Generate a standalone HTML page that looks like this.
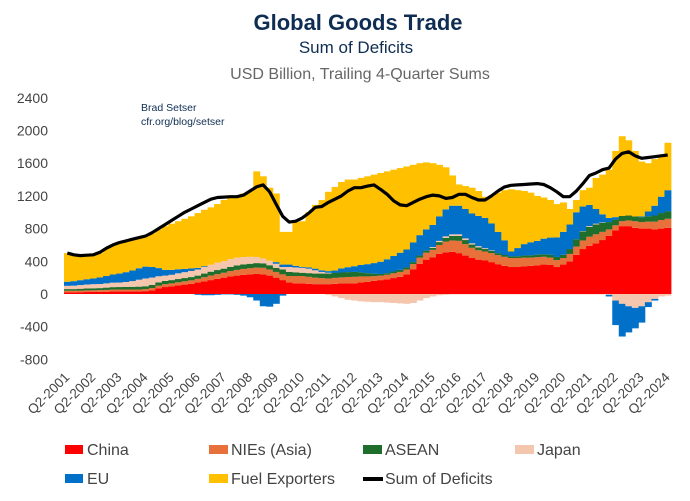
<!DOCTYPE html>
<html><head><meta charset="utf-8">
<style>
html,body{margin:0;padding:0;background:#fff;}
svg{display:block;font-family:"Liberation Sans",sans-serif;}
</style></head>
<body>
<svg id="chart" width="690" height="501" viewBox="0 0 690 501">
<text x="358" y="30" text-anchor="middle" font-size="22" font-weight="bold" fill="#0f2d52">Global Goods Trade</text>
<text x="356" y="53" text-anchor="middle" font-size="17" fill="#0f2d52">Sum of Deficits</text>
<text x="360" y="79" text-anchor="middle" font-size="16" fill="#666">USD Billion, Trailing 4-Quarter Sums</text>
<text x="141" y="111" font-size="10.5" fill="#0f2d52">Brad Setser</text>
<text x="141" y="125" font-size="10.5" fill="#0f2d52">cfr.org/blog/setser</text>
<g id="bars"></g>
<g id="yaxis"></g>
<g id="xaxis"></g>
<g id="legend">
 <g><rect x="65" y="445" width="18" height="9" fill="#ff0000"/><text x="87" y="455" font-size="16" fill="#444">China</text></g>
 <g><rect x="209" y="445" width="19" height="9" fill="#e8703a"/><text x="231" y="455" font-size="16" fill="#444">NIEs (Asia)</text></g>
 <g><rect x="363" y="445" width="19" height="9" fill="#1f6e2c"/><text x="385" y="455" font-size="16" fill="#444">ASEAN</text></g>
 <g><rect x="515" y="445" width="19" height="9" fill="#f4c6ae"/><text x="537" y="455" font-size="16" fill="#444">Japan</text></g>
 <g><rect x="65" y="474" width="18" height="9" fill="#0070c8"/><text x="87" y="484" font-size="16" fill="#444">EU</text></g>
 <g><rect x="209" y="474" width="19" height="9" fill="#ffc000"/><text x="231" y="484" font-size="16" fill="#444">Fuel Exporters</text></g>
 <g><rect x="363" y="477" width="20" height="4" fill="#000"/><text x="385" y="484" font-size="16" fill="#444">Sum of Deficits</text></g>
</g>
</svg>
<script>
const startYear = 2001;
const yTicks = [2400,2000,1600,1200,800,400,0,-400,-800];
const china = [20,20,22,24,25,27,28,30,30,30,30,30,35,45,70,85,95,105,115,125,140,155,170,185,200,215,225,235,240,245,240,225,200,170,140,130,130,125,120,120,120,125,128,130,130,140,150,160,170,180,195,210,240,300,370,420,450,490,510,515,500,470,440,420,410,390,365,345,330,330,340,345,350,360,355,330,360,400,480,550,590,620,660,710,780,830,830,810,800,800,790,800,810];
const nies = [20,20,20,20,20,20,22,24,25,25,25,25,25,28,32,35,35,38,40,42,45,50,55,58,60,65,70,72,75,78,80,75,70,70,80,90,90,85,80,75,70,72,75,78,80,75,65,58,55,55,58,60,60,65,75,85,90,110,130,140,150,140,125,115,110,110,110,110,110,110,105,100,100,95,90,85,80,90,100,105,110,110,100,80,60,60,70,80,80,85,95,105,110];
const asean = [20,20,22,24,25,25,28,30,30,32,33,35,35,38,40,40,40,40,40,40,40,45,48,50,50,52,55,55,55,55,55,52,50,60,50,45,40,45,50,55,60,60,60,60,60,50,40,30,20,20,22,25,25,25,25,25,25,35,45,55,60,50,40,35,30,28,25,22,20,22,25,28,30,32,35,38,40,60,90,110,120,120,110,90,70,65,60,60,60,65,75,85,90];
const japanPos = [40,42,45,48,50,50,52,55,55,60,70,85,95,90,75,65,65,70,72,75,75,80,85,90,90,95,95,90,85,75,60,55,50,30,60,60,60,55,40,20,10,0,0,0,0,0,0,0,0,0,0,0,0,0,0,0,10,15,20,20,20,20,15,15,10,5,0,0,0,0,0,0,0,0,0,0,0,0,0,5,10,10,5,0,0,0,0,0,0,0,0,0,0];
const japanNeg = [0,0,0,0,0,0,0,0,0,0,0,0,0,0,0,0,0,0,0,0,0,0,0,0,0,0,0,0,0,0,0,0,0,0,0,0,0,0,0,0,-10,-30,-50,-70,-80,-90,-95,-100,-100,-105,-110,-115,-120,-110,-80,-50,-30,-15,-10,-5,-5,-5,-5,-5,-5,-5,-5,-5,-5,-5,-5,-5,-5,-5,-5,-5,-5,-5,-5,-5,-5,-5,-5,-10,-80,-120,-150,-170,-150,-100,-60,-30,-20];
const euPos = [50,55,60,65,70,80,90,100,110,120,130,140,145,130,100,70,60,50,40,30,20,10,0,0,0,0,0,0,0,0,0,0,20,30,30,20,10,15,20,20,20,30,50,60,70,90,110,130,150,170,190,210,220,240,250,260,270,300,330,350,350,360,365,370,370,330,260,180,60,100,140,160,170,190,210,240,280,300,330,300,260,180,100,50,30,0,0,0,10,60,120,200,260];
const euNeg = [0,0,0,0,0,0,0,0,0,0,0,0,0,0,0,0,0,0,0,0,-10,-15,-15,-10,-5,-5,-10,-20,-40,-80,-150,-155,-120,-20,0,0,0,0,0,0,0,0,0,0,0,0,0,0,0,0,0,0,0,0,0,0,0,0,0,0,0,0,0,0,0,0,0,0,0,0,0,0,0,0,0,0,0,0,0,0,0,0,0,-20,-300,-400,-320,-250,-200,-60,-20,0,0];
const fuel = [350,313,291,289,290,298,340,351,370,373,372,365,365,409,473,535,565,587,613,638,670,690,702,717,750,753,755,778,805,1047,1005,893,840,400,400,535,560,675,780,860,970,1023,1057,1072,1060,1065,1075,1082,1085,1075,1055,1035,1015,950,880,820,755,630,515,370,260,280,315,305,260,337,480,613,760,708,650,607,550,503,460,407,360,190,150,200,210,380,485,590,810,975,920,800,670,590,570,510,580];
const sumDeficits = [500,480,470,475,480,510,560,600,630,650,670,690,710,750,800,850,900,950,1000,1040,1080,1120,1160,1180,1185,1190,1190,1210,1260,1310,1335,1250,1100,950,880,890,930,990,1060,1070,1120,1160,1200,1260,1300,1300,1320,1335,1280,1220,1140,1090,1080,1120,1160,1190,1210,1200,1170,1180,1220,1220,1180,1150,1150,1200,1260,1310,1330,1335,1340,1345,1350,1340,1300,1250,1190,1190,1260,1350,1450,1480,1520,1540,1650,1720,1740,1690,1660,1670,1680,1690,1700];

const NS='http://www.w3.org/2000/svg';
const x0=64, x1=671, n=china.length, bw=(x1-x0)/n;
const yZero=294, pxPer=32.7/400;
const X=i=>x0+i*bw;
const Y=v=>yZero-v*pxPer;
function mk(tag,attrs,parent){const e=document.createElementNS(NS,tag);for(const k in attrs)e.setAttribute(k,attrs[k]);parent.appendChild(e);return e;}

const yg=document.getElementById('yaxis');
yTicks.forEach(t=>{
  const e=mk('text',{x:48,y:Y(t)+5,'text-anchor':'end','font-size':14,fill:'#444'},yg);
  
  
  e.textContent=String(t);
});

const bg=document.getElementById('bars');
const pos=[['china',china,'#ff0000'],['nies',nies,'#e8703a'],['asean',asean,'#1f6e2c'],['japan',japanPos,'#f4c6ae'],['eu',euPos,'#0070c8'],['fuel',fuel,'#ffc000']];
const neg=[['japan-neg',japanNeg,'#f4c6ae'],['eu-neg',euNeg,'#0070c8']];
for(let i=0;i<n;i++){
  let c=0;
  pos.forEach(([nm,arr,col])=>{
    const v=arr[i]; if(v<=0) return;
    const r=mk('rect',{x:X(i),y:Y(c+v),width:bw+0.4,height:v*pxPer,fill:col},bg);
    
    
    c+=v;
  });
  let d=0;
  neg.forEach(([nm,arr,col])=>{
    const v=arr[i]; if(v>=0) return;
    const r=mk('rect',{x:X(i),y:Y(d),width:bw+0.4,height:-v*pxPer,fill:col},bg);
    
    
    d+=v;
  });
}
const pts=sumDeficits.map((v,i)=>(X(i)+bw/2).toFixed(1)+','+Y(v).toFixed(1)).join(' ');
const line=mk('polyline',{points:pts,fill:'none',stroke:'#000','stroke-width':3.2,'stroke-linejoin':'round'},bg);



const xg=document.getElementById('xaxis');
for(let i=0;i<n;i+=4){
  const lx=X(i)+bw/2+3, ly=378;
  const t=mk('text',{x:lx,y:ly,'text-anchor':'end','font-size':13.5,fill:'#444',transform:`rotate(-45 ${lx} ${ly})`},xg);
  
  
  t.textContent='Q2-'+(startYear+i/4);
}
</script>
</body></html>
